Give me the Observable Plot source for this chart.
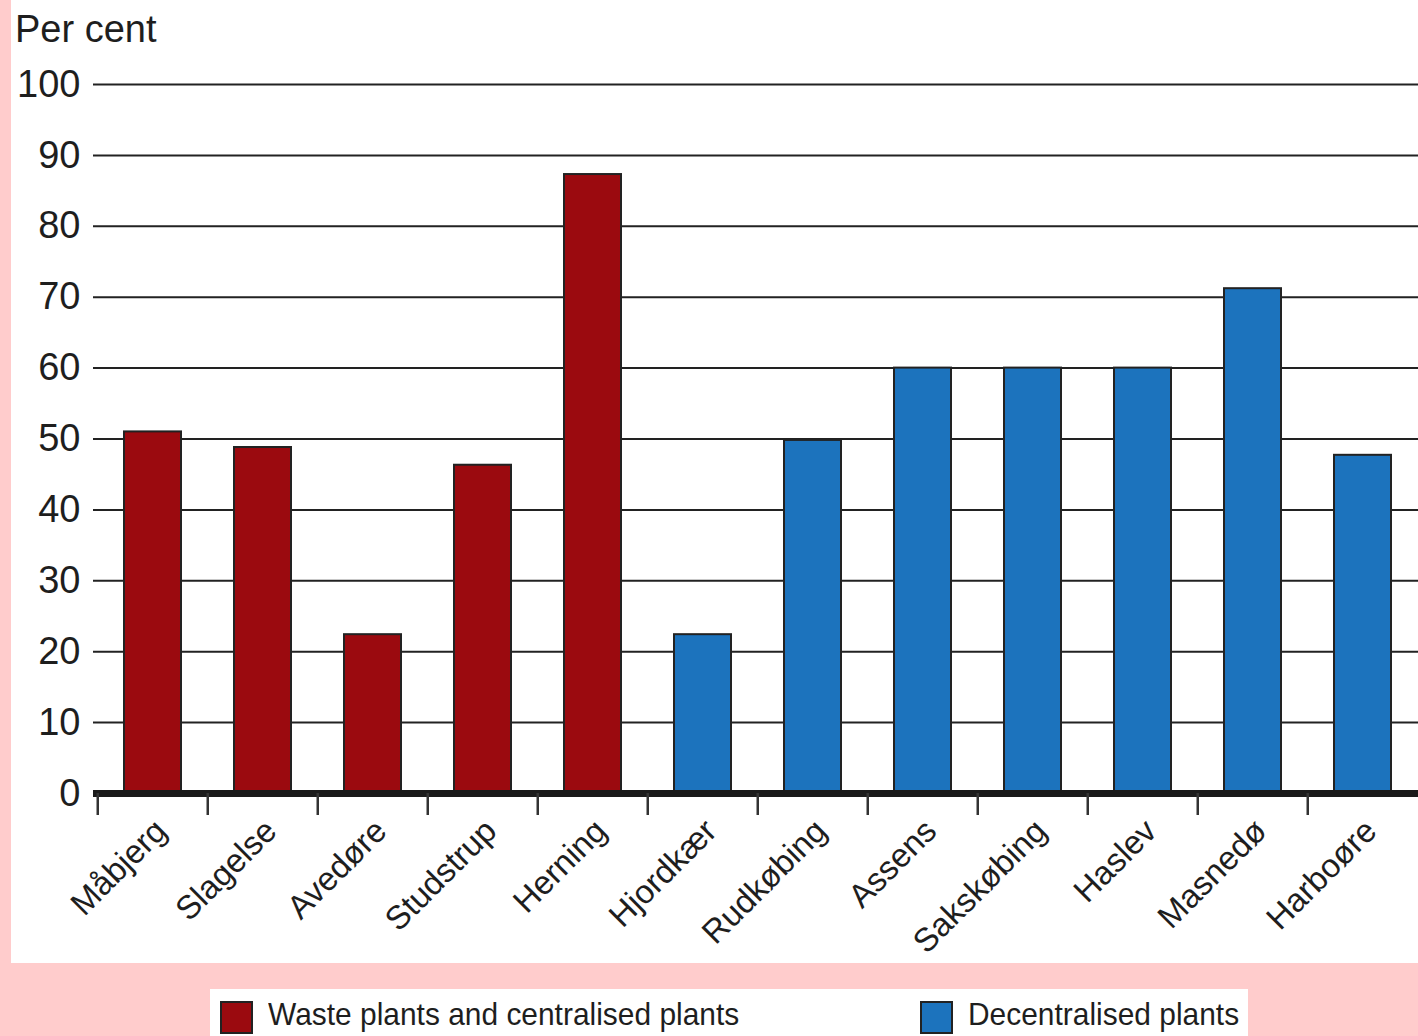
<!DOCTYPE html>
<html>
<head>
<meta charset="utf-8">
<script src="https://cdn.jsdelivr.net/npm/d3@7"></script>
<script src="https://cdn.jsdelivr.net/npm/@observablehq/plot@0.6"></script>
<style>
html, body { margin: 0; padding: 0; }
body { width: 1418px; height: 1036px; background: #ffcccc; position: relative; overflow: hidden;
  font-family: "Liberation Sans", Arial, sans-serif; color: #1e1e1e; }
#panel { position: absolute; left: 11px; top: 0; width: 1407px; height: 963px; background: #fff; overflow: hidden; }
#ylabel { position: absolute; left: 4px; top: 10px; font-size: 38px; line-height: 38px; white-space: nowrap; }
#chart { position: absolute; left: 0; top: 0; }
#legend { position: absolute; left: 210px; top: 989px; width: 1038px; height: 60px; background: #fff; }
.sw { position: absolute; top: 12px; width: 29px; height: 29px; border: 2px solid #222; }
.lt { position: absolute; top: 9px; font-size: 32px; line-height: 32px; white-space: nowrap;
  transform: scaleX(0.935); transform-origin: left center; }
</style>
</head>
<body>
<div id="panel">
  <div id="chart"></div>
  <div id="ylabel"></div>
</div>
<div id="legend"></div>
<script>
// ---- data ----
const categories = ["Måbjerg", "Slagelse", "Avedøre", "Studstrup", "Herning", "Hjordkær",
  "Rudkøbing", "Assens", "Sakskøbing", "Haslev", "Masnedø", "Harboøre"];
const values = [51, 48.8, 22.4, 46.3, 87.3, 22.4, 49.8, 60, 60, 60, 71.2, 47.7];
const groups = ["Waste plants and centralised plants", "Waste plants and centralised plants",
  "Waste plants and centralised plants", "Waste plants and centralised plants",
  "Waste plants and centralised plants", "Decentralised plants", "Decentralised plants",
  "Decentralised plants", "Decentralised plants", "Decentralised plants",
  "Decentralised plants", "Decentralised plants"];
const groupNames = ["Waste plants and centralised plants", "Decentralised plants"];
const groupColors = ["#9b0a0f", "#1c73bd"];
const yTicks = [0, 10, 20, 30, 40, 50, 60, 70, 80, 90, 100];
const yTitle = "Per cent";

const data = categories.map((c, i) => ({name: c, value: values[i], group: groups[i]}));

const xRange = [83, 1409];
const step = (xRange[1] - xRange[0]) / categories.length;

const plot = Plot.plot({
  width: 1407,
  height: 963,
  marginLeft: 82,
  marginRight: 0,
  marginTop: 84,
  marginBottom: 170,
  style: {background: "transparent", fontFamily: "Liberation Sans, Arial, sans-serif", color: "#1e1e1e"},
  x: {domain: categories, range: xRange, paddingInner: 0.485, paddingOuter: 0.2425, axis: null},
  y: {domain: [0, 100]},
  color: {domain: groupNames, range: groupColors},
  marks: [
    Plot.ruleY(yTicks.filter(d => d > 0), {stroke: "#222", strokeWidth: 2}),
    Plot.barY(data, {x: "name", y: "value", fill: "group", stroke: "#222", strokeWidth: 2}),
    Plot.ruleY([0], {stroke: "#1a1a1a", strokeWidth: 7}),
    Plot.ruleX(categories, {x: d => d, y1: 0, y2: -3.1, dx: -step / 2, stroke: "#333", strokeWidth: 2.5}),
    Plot.axisY({ticks: yTicks, tickSize: 0, tickPadding: 13, fontSize: 38, label: null}),
    Plot.text(categories, {x: d => d, y: 0, text: d => d, rotate: -45, textAnchor: "end",
      lineAnchor: "middle", dx: 8, dy: 32, fontSize: 33, fill: "#1e1e1e"})
  ]
});
document.getElementById("chart").appendChild(plot);
document.getElementById("ylabel").textContent = yTitle;

// legend
const legend = document.getElementById("legend");
const swLeft = [10, 710];
const txLeft = [58, 758];
groupNames.forEach((g, i) => {
  const sw = document.createElement("div");
  sw.className = "sw";
  sw.style.left = swLeft[i] + "px";
  sw.style.background = groupColors[i];
  legend.appendChild(sw);
  const t = document.createElement("div");
  t.className = "lt";
  t.style.left = txLeft[i] + "px";
  t.textContent = g;
  legend.appendChild(t);
});
</script>
</body>
</html>
